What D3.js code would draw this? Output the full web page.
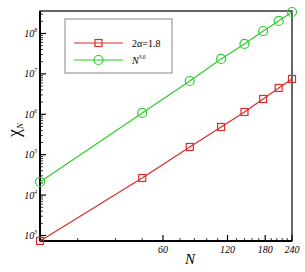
<!DOCTYPE html>
<html lang="en">
<head>
  <meta charset="UTF-8">
  <title></title>
  <style>
    html, body {
      margin: 0;
      overflow: hidden;
      width: 100%;
      height: 100%;
      background: white;
    }
    svg {
      position: absolute;
      top: 0;
      left: 0;
    }
    text {
      font-family: "Liberation Serif", "DejaVu Serif", serif;
    }
  </style>
</head>
<body>
  <svg width="305" height="272"></svg>
</body>
<script src="https://cdn.jsdelivr.net/npm/d3@7"></script>
<script type="text/javascript">
  // data
  const sizes = [16, 48, 80, 112, 144, 176, 208, 240]
  const chiRed = [731, 26500, 155000, 485000, 1140000, 2390000, 4480000, 7480000]
  const chiGreen = [21100, 1080000, 6670000, 23400000, 55000000, 115000000, 204000000, 340000000]
  const seriesNames = ['2\u03b1=1.8', 'N']
  const xMajorTicks = [60, 120, 180, 240]
  const xMinorTicks = [24, 36, 48, 72, 84, 96, 108, 132, 144, 156, 168, 192, 204, 216, 228]
  const yMajorTicks = [1e3, 1e4, 1e5, 1e6, 1e7, 1e8]

  const svg = d3.select('svg')
  const plot = { left: 40, right: 292, top: 11, bottom: 241 }
  const red = '#dd2a2a'
  const green = '#2ccc2c'

  const x = d3.scaleLog().domain([16, 240]).range([plot.left, plot.right])
  const y = d3.scaleLog().domain([730, 3.6e8]).range([plot.bottom, plot.top])

  // frame
  svg.append('rect')
    .attr('x', plot.left).attr('y', plot.top)
    .attr('width', plot.right - plot.left).attr('height', plot.bottom - plot.top)
    .attr('fill', 'none').attr('stroke', '#000').attr('stroke-width', 1.2)

  // x ticks (pointing inward)
  svg.selectAll('line.xmin')
    .data(xMinorTicks)
    .enter().append('line')
    .attr('x1', d => x(d)).attr('x2', d => x(d))
    .attr('y1', plot.bottom).attr('y2', plot.bottom - 3)
    .attr('stroke', '#000').attr('stroke-width', 0.8)
  svg.selectAll('line.xmaj')
    .data(xMajorTicks)
    .enter().append('line')
    .attr('x1', d => x(d)).attr('x2', d => x(d))
    .attr('y1', plot.bottom).attr('y2', plot.bottom - 6)
    .attr('stroke', '#000').attr('stroke-width', 1.2)
  svg.selectAll('text.xlab')
    .data(xMajorTicks)
    .enter().append('text')
    .attr('x', d => x(d)).attr('y', plot.bottom + 12)
    .attr('text-anchor', 'middle')
    .attr('font-size', 10).attr('font-style', 'italic')
    .text(d => d)

  // y ticks
  const yMinorTicks = y.ticks().filter(d => !yMajorTicks.includes(d))
  svg.selectAll('line.ymin')
    .data(yMinorTicks)
    .enter().append('line')
    .attr('x1', plot.left).attr('x2', plot.left + 3)
    .attr('y1', d => y(d)).attr('y2', d => y(d))
    .attr('stroke', '#000').attr('stroke-width', 0.8)
  svg.selectAll('line.ymaj')
    .data(yMajorTicks)
    .enter().append('line')
    .attr('x1', plot.left).attr('x2', plot.left + 6)
    .attr('y1', d => y(d)).attr('y2', d => y(d))
    .attr('stroke', '#000').attr('stroke-width', 1.2)
  const ylab = svg.selectAll('text.ylab')
    .data(yMajorTicks)
    .enter().append('text')
    .attr('x', plot.left - 3).attr('y', d => y(d) + 3.5)
    .attr('text-anchor', 'end')
    .attr('font-size', 10).attr('font-style', 'italic')
  ylab.append('tspan').text('10')
  ylab.append('tspan').attr('font-size', 5.5).attr('dy', -5).text(d => Math.round(Math.log10(d)))

  // thick left and bottom axes
  svg.append('line')
    .attr('x1', plot.left).attr('x2', plot.left)
    .attr('y1', plot.top).attr('y2', plot.bottom)
    .attr('stroke', '#000').attr('stroke-width', 2)
  svg.append('line')
    .attr('x1', plot.left).attr('x2', plot.right)
    .attr('y1', plot.bottom).attr('y2', plot.bottom)
    .attr('stroke', '#000').attr('stroke-width', 2)

  // series
  const line = d3.line().x(d => x(d[0])).y(d => y(d[1]))
  const redPts = sizes.map((n, i) => [n, chiRed[i]])
  const greenPts = sizes.map((n, i) => [n, chiGreen[i]])

  svg.append('path').attr('d', line(greenPts))
    .attr('fill', 'none').attr('stroke', green).attr('stroke-width', 1.2)
  svg.selectAll('circle.g')
    .data(greenPts)
    .enter().append('circle')
    .attr('cx', d => x(d[0])).attr('cy', d => y(d[1])).attr('r', 4.5)
    .attr('fill', 'none').attr('stroke', green).attr('stroke-width', 1.2)

  svg.append('path').attr('d', line(redPts))
    .attr('fill', 'none').attr('stroke', red).attr('stroke-width', 1.2)
  svg.selectAll('rect.r')
    .data(redPts)
    .enter().append('rect')
    .attr('x', d => x(d[0]) - 3.5).attr('y', d => y(d[1]) - 3.5)
    .attr('width', 7).attr('height', 7)
    .attr('fill', 'none').attr('stroke', red).attr('stroke-width', 1.2)

  // legend
  const lg = svg.append('g')
  lg.append('rect')
    .attr('x', 65).attr('y', 19).attr('width', 107).attr('height', 54)
    .attr('fill', 'white').attr('stroke', '#888').attr('stroke-width', 1)
  lg.append('line').attr('x1', 74).attr('x2', 123).attr('y1', 43).attr('y2', 43)
    .attr('stroke', red).attr('stroke-width', 1.2)
  lg.append('rect').attr('x', 95).attr('y', 39.5).attr('width', 7).attr('height', 7)
    .attr('fill', 'none').attr('stroke', red).attr('stroke-width', 1.2)
  lg.append('text').attr('x', 132).attr('y', 47).attr('font-size', 10)
    .text(seriesNames[0])
  lg.append('line').attr('x1', 74).attr('x2', 123).attr('y1', 60).attr('y2', 60)
    .attr('stroke', green).attr('stroke-width', 1.2)
  lg.append('circle').attr('cx', 98.5).attr('cy', 60).attr('r', 4.5)
    .attr('fill', 'none').attr('stroke', green).attr('stroke-width', 1.2)
  const gt = lg.append('text').attr('x', 132).attr('y', 64).attr('font-size', 10)
  gt.append('tspan').attr('font-style', 'italic').text(seriesNames[1])
  gt.append('tspan').attr('font-size', 5.5).attr('dy', -5).attr('font-style', 'italic').text('3.6')

  // axis titles
  svg.append('text')
    .attr('x', 190).attr('y', 264)
    .attr('text-anchor', 'middle')
    .attr('font-size', 15).attr('font-style', 'italic')
    .text('N')
  const yt = svg.append('text')
    .attr('transform', 'translate(20,130) rotate(-90)')
    .attr('text-anchor', 'middle')
    .attr('font-size', 18)
  yt.append('tspan').text('\u03c7')
  yt.append('tspan').attr('font-size', 9).attr('font-style', 'italic').attr('dy', 3).text('N')
</script>
</html>
